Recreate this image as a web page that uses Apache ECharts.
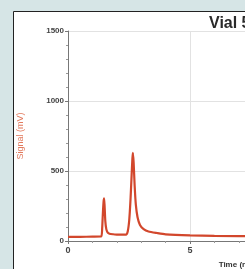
<!DOCTYPE html>
<html>
<head>
<meta charset="utf-8">
<style>
	html, body { margin: 0; padding: 0; background: #d6e5e6; }
	#chart { width: 245px; height: 269px; }
</style>
<script src="https://cdn.jsdelivr.net/npm/echarts@6/dist/echarts.min.js"></script>
</head>
<body>
<div id="chart"></div>
<script type="text/javascript">
	// chromatogram: time (min) / signal (mV)
	var times  = [0, 0.5, 1.0, 1.36, 1.40, 1.43, 1.46, 1.48, 1.50, 1.53, 1.57, 1.62, 1.70, 1.85, 2.0, 2.2, 2.38, 2.45, 2.51, 2.56, 2.60, 2.64, 2.66, 2.69, 2.73, 2.78, 2.85, 2.95, 3.1, 3.3, 3.65, 4.0, 5.0, 6.0, 8.0, 10.0, 14.0];
	var signal = [30, 30, 31, 32, 90, 200, 285, 305, 250, 140, 85, 62, 52, 48, 46, 45, 46, 70, 150, 290, 440, 590, 630, 560, 400, 260, 170, 115, 85, 68, 57, 48, 40, 36, 34, 33, 32];
	var yTicks = [0, 500, 1000, 1500];

	var points = [];
	for (var i = 0; i < times.length; i++) {
		points.push([times[i], signal[i]]);
	}

	var myChart = echarts.init(document.getElementById('chart'));
	var option = {
		backgroundColor: '#d6e5e6',
		textStyle: { fontFamily: 'Liberation Sans' },
		animation: false,
		title: {
			text: 'Vial 5 - Sample',
			left: 204,
			top: 11,
			textStyle: { fontSize: 16, fontWeight: 'bold', color: '#2a2a2a' }
		},
		graphic: [{
			type: 'rect',
			z: -10,
			shape: { x: 13.5, y: 11.5, width: 400, height: 400 },
			style: { fill: '#ffffff', stroke: '#222222', lineWidth: 1 }
		}],
		grid: {
			left: 68,
			top: 31,
			width: 341.6,
			height: 210,
			outerBoundsMode: 'none',
			containLabel: false
		},
		xAxis: {
			type: 'value',
			min: 0,
			max: 14,
			interval: 5,
			name: 'Time (min)',
			nameLocation: 'middle',
			nameGap: 20,
			nameTextStyle: { fontSize: 8, color: '#333', fontWeight: 'bold' },
			axisLine: { show: true, onZero: false, lineStyle: { color: '#777', width: 1 } },
			axisTick: { show: true, length: 3, lineStyle: { color: '#777' } },
			minorTick: { show: true, splitNumber: 5, length: 2, lineStyle: { color: '#999' } },
			axisLabel: { fontSize: 9, color: '#444', fontWeight: 'bold', margin: 5 },
			splitLine: { show: true, lineStyle: { color: '#e2e2e2', width: 1 } }
		},
		yAxis: {
			type: 'value',
			min: yTicks[0],
			max: yTicks[yTicks.length - 1],
			interval: 500,
			name: 'Signal (mV)',
			nameLocation: 'middle',
			nameGap: 43,
			nameTextStyle: { fontSize: 9, color: '#e27a5e' },
			axisLine: { show: true, lineStyle: { color: '#777', width: 1 } },
			axisTick: { show: true, length: 3, lineStyle: { color: '#777' } },
			minorTick: { show: true, splitNumber: 5, length: 2, lineStyle: { color: '#999' } },
			axisLabel: {
				fontSize: 8, color: '#444', fontWeight: 'bold', margin: 4,
				formatter: function (value) { return String(value); }
			},
			splitLine: { show: true, lineStyle: { color: '#e2e2e2', width: 1 } }
		},
		series: [{
			type: 'line',
			data: points,
			symbol: 'none',
			smooth: 0.2,
			lineStyle: { color: '#d2472c', width: 2.2 }
		}]
	};
	myChart.setOption(option);
</script>
</body>
</html>
